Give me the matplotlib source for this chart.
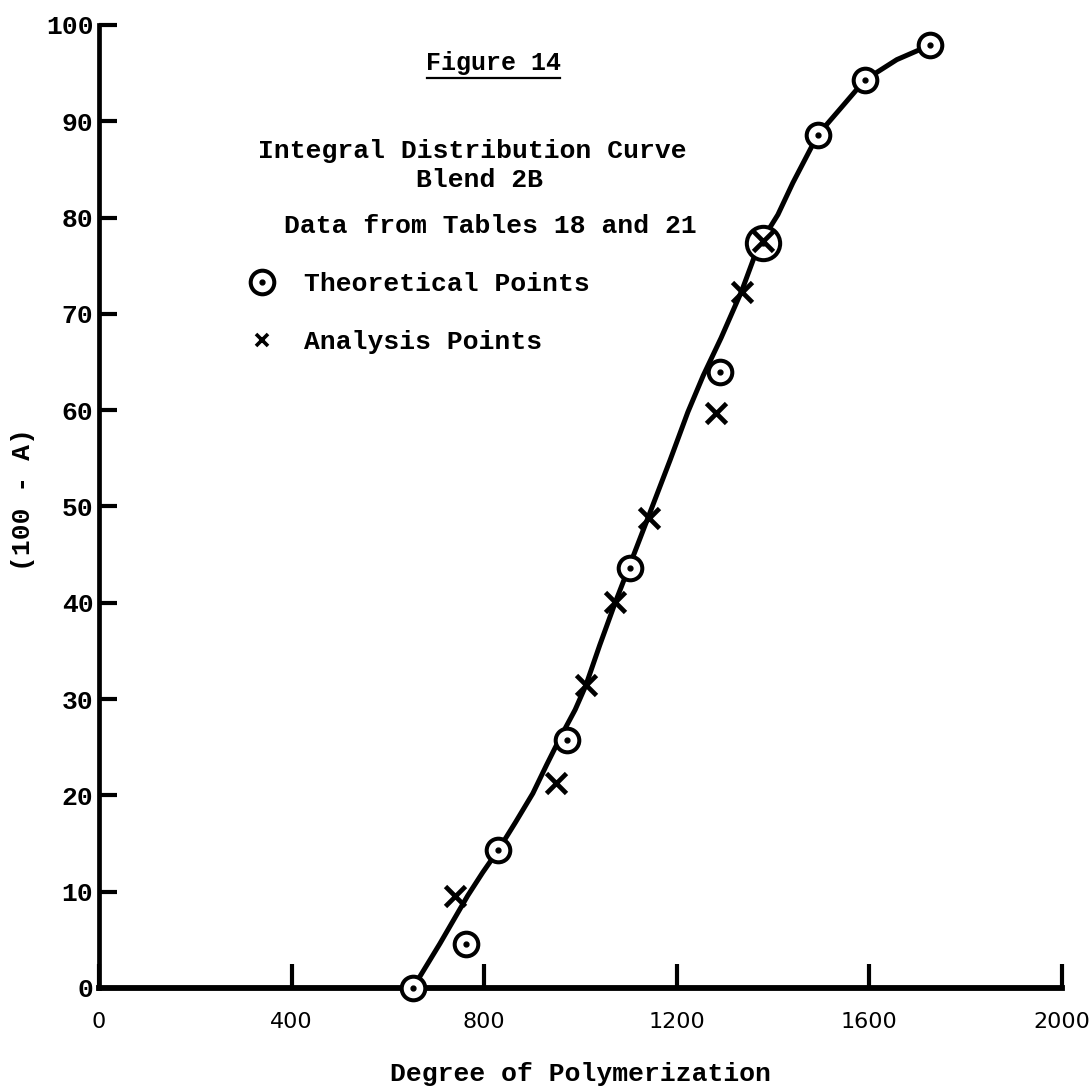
import matplotlib
matplotlib.use("Agg")
import matplotlib.pyplot as plt
from matplotlib.lines import Line2D
from matplotlib.legend_handler import HandlerTuple

# data
theo_x = [652, 762, 829, 972, 1103, 1290, 1379, 1493, 1591, 1726]
theo_y = [0.0, 4.6, 14.3, 25.8, 43.6, 64.0, 77.4, 88.6, 94.3, 97.9]

anal_x = [739, 949, 1011, 1072, 1142, 1282, 1335, 1379]
anal_y = [9.6, 21.3, 31.5, 40.1, 48.8, 59.7, 72.3, 77.6]

curve_x = [652, 680, 708, 737, 766, 797, 829, 865, 901, 930, 958, 989, 1011,
           1040, 1072, 1103, 1140, 1186, 1223, 1255, 1292, 1335, 1369, 1410,
           1441, 1493, 1543, 1591, 1657, 1726]
curve_y = [0.0, 2.3, 4.6, 7.1, 9.6, 12.0, 14.3, 17.2, 20.2, 23.2, 26.0, 28.9,
           31.4, 35.6, 40.0, 44.0, 48.8, 54.8, 59.8, 63.6, 67.5, 72.4, 77.0,
           80.3, 83.6, 88.6, 91.5, 94.3, 96.4, 97.9]

x_ticks = [0, 400, 800, 1200, 1600, 2000]
y_ticks = [0, 10, 20, 30, 40, 50, 60, 70, 80, 90, 100]

mono = "Liberation Mono"

fig = plt.figure(figsize=(10.9, 10.9), dpi=100)
ax = fig.add_axes([0.0908, 0.0936, 0.8835, 0.8835])
ax.set_xlim(0, 2000)
ax.set_ylim(0, 100)

for s in ["top", "right"]:
    ax.spines[s].set_visible(False)
ax.spines["left"].set_linewidth(3.4)
ax.spines["bottom"].set_linewidth(4.2)

ax.plot(curve_x, curve_y, color="black", lw=3.6, solid_capstyle="round",
        solid_joinstyle="round", zorder=3)

sizes = [24 if x == 1379 else 17 for x in theo_x]
for x, y, ms in zip(theo_x, theo_y, sizes):
    ax.plot([x], [y], marker="o", ms=ms, mfc="white", mec="black", mew=2.9,
            ls="none", clip_on=False, zorder=4)
ax.plot(theo_x, theo_y, marker="o", ms=3.5, color="black", ls="none",
        clip_on=False, zorder=5)
ax.plot(anal_x, anal_y, marker="x", ms=15, mew=3.4, color="black", ls="none",
        clip_on=False, zorder=6)

ax.set_xticks(x_ticks)
ax.set_xticklabels([str(v) for v in x_ticks], fontfamily="DejaVu Sans",
                   fontsize=16)
ax.set_yticks(y_ticks)
ax.set_yticklabels([str(v) for v in y_ticks], fontfamily=mono,
                   fontweight="bold", fontsize=19)
ax.tick_params(axis="x", direction="in", length=17, width=3, pad=17)
ax.tick_params(axis="y", direction="in", length=13, width=3, pad=4)

ax.set_xlabel("Degree of Polymerization", fontfamily=mono, fontweight="bold",
              fontsize=19)
ax.xaxis.set_label_coords(0.5, -0.077)
ax.set_ylabel("(100 - A)", fontfamily=mono, fontweight="bold", fontsize=19)
ax.yaxis.set_label_coords(-0.066, 0.507)

# header text block
fig.text(493 / 1090, 1 - 70 / 1090, "Figure 14", ha="center", va="baseline",
         fontfamily=mono, fontweight="bold", fontsize=18)
fig.add_artist(Line2D([427 / 1090, 560 / 1090], [1 - 78 / 1090, 1 - 78 / 1090],
                      color="black", lw=1.6))
fig.text(472 / 1090, 1 - 158 / 1090, "Integral Distribution Curve",
         ha="center", va="baseline", fontfamily=mono, fontweight="bold",
         fontsize=19)
fig.text(480 / 1090, 1 - 187 / 1090, "Blend 2B", ha="center", va="baseline",
         fontfamily=mono, fontweight="bold", fontsize=19)
fig.text(490 / 1090, 1 - 233 / 1090, "Data from Tables 18 and 21",
         ha="center", va="baseline", fontfamily=mono, fontweight="bold",
         fontsize=19)

h_circ = Line2D([], [], marker="o", ms=17, mfc="white", mec="black", mew=2.9,
                ls="none")
h_dot = Line2D([], [], marker="o", ms=3.5, color="black", ls="none")
h_x = Line2D([], [], marker="x", ms=9, mew=2.6, color="black", ls="none")
ax.legend([(h_circ, h_dot), h_x], ["Theoretical Points", "Analysis Points"],
          handler_map={tuple: HandlerTuple(ndivide=1, pad=0)},
          loc="upper left", bbox_to_anchor=((249 - 99) / 963, (988 - 272) / 963),
          borderaxespad=0, borderpad=0, frameon=False, handlelength=1.0,
          handletextpad=1.1, labelspacing=1.3,
          prop={"family": mono, "weight": "bold", "size": 19})

fig.savefig("out.png", dpi=100, facecolor="white")
